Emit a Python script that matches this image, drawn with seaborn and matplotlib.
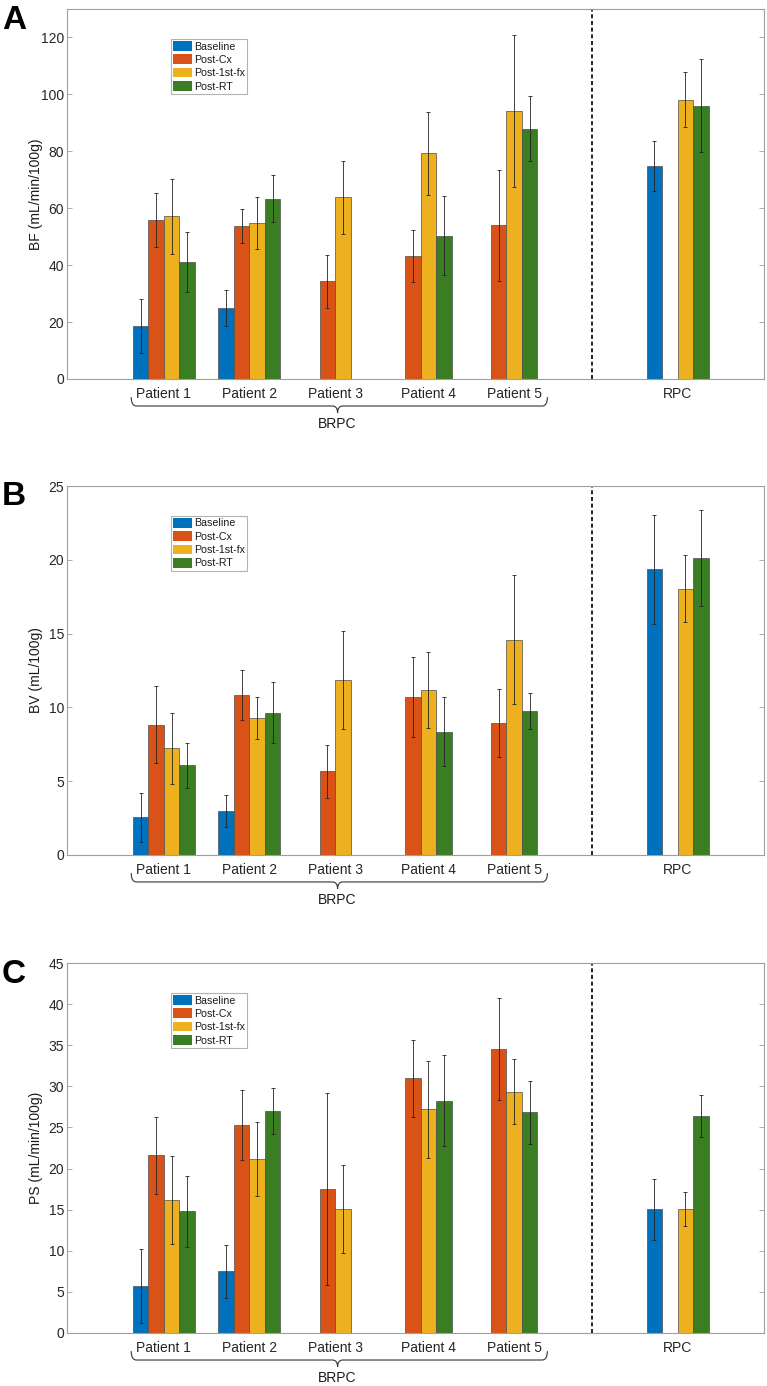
import numpy as np
import pandas as pd
import matplotlib
matplotlib.use("Agg")
import matplotlib.pyplot as plt
from matplotlib.path import Path
from matplotlib.patches import PathPatch
import seaborn as sns

# ---------------- data ----------------
groups = ["Patient 1", "Patient 2", "Patient 3", "Patient 4", "Patient 5", "RPC"]
group_pos = [1, 2, 3, 4, 5, 7]
conditions = ["Baseline", "Post-Cx", "Post-1st-fx", "Post-RT"]
colors = ["#0072BD", "#D95319", "#EDB120", "#3B7D23"]
nan = np.nan

# BF (mL/min/100g): rows = groups, cols = conditions
bf_mean = [[18.7, 56.0, 57.1, 41.1],
           [24.8, 53.8, 54.7, 63.3],
           [nan, 34.3, 63.9, nan],
           [nan, 43.2, 79.3, 50.4],
           [nan, 54.0, 94.2, 88.0],
           [74.8, nan, 98.1, 96.0]]
bf_err = [[9.4, 9.5, 13.2, 10.7],
          [6.3, 6.1, 9.1, 8.3],
          [nan, 9.3, 12.8, nan],
          [nan, 9.0, 14.5, 14.0],
          [nan, 19.6, 26.8, 11.5],
          [8.8, nan, 9.6, 16.4]]

# BV (mL/100g)
bv_mean = [[2.55, 8.82, 7.24, 6.07],
           [3.00, 10.83, 9.27, 9.63],
           [nan, 5.66, 11.85, nan],
           [nan, 10.72, 11.17, 8.35],
           [nan, 8.94, 14.58, 9.75],
           [19.36, nan, 18.05, 20.13]]
bv_err = [[1.68, 2.60, 2.40, 1.50],
          [1.08, 1.69, 1.42, 2.07],
          [nan, 1.77, 3.32, nan],
          [nan, 2.72, 2.55, 2.35],
          [nan, 2.30, 4.37, 1.22],
          [3.69, nan, 2.29, 3.27]]

# PS (mL/min/100g)
ps_mean = [[5.73, 21.59, 16.18, 14.80],
           [7.48, 25.33, 21.22, 26.95],
           [nan, 17.56, 15.08, nan],
           [nan, 30.98, 27.20, 28.25],
           [nan, 34.51, 29.35, 26.83],
           [15.04, nan, 15.08, 26.34]]
ps_err = [[4.50, 4.70, 5.37, 4.30],
          [3.20, 4.27, 4.50, 2.80],
          [nan, 11.67, 5.37, nan],
          [nan, 4.67, 5.90, 5.55],
          [nan, 6.22, 3.96, 3.82],
          [3.74, nan, 2.07, 2.56]]

panels = [
    ("A", "BF (mL/min/100g)", bf_mean, bf_err, 130, list(range(0, 121, 20))),
    ("B", "BV (mL/100g)", bv_mean, bv_err, 25, list(range(0, 26, 5))),
    ("C", "PS (mL/min/100g)", ps_mean, ps_err, 45, list(range(0, 46, 5))),
]

# label positions (tick label placement along x)
label_pos = [1.0, 2.0, 3.0, 4.09, 5.1, 7.0]

# ---------------- style ----------------
sns.set_style("white")
plt.rcParams["font.family"] = ["Liberation Sans", "DejaVu Sans"]
plt.rcParams["text.color"] = "#1a1a1a"

W, H = 767, 1386
fig = plt.figure(figsize=(W / 100, H / 100), dpi=100)

ax_px = [(9, 379), (486, 855), (963, 1333)]  # (top, bottom) pixel rows
left_px, right_px = 67, 764
letter_tops = [5, 481, 959]

frame_col = "#a0a0a0"

for (letter, ylabel, means, errs, ymax, yticks), (top, bot), ltop in zip(panels, ax_px, letter_tops):
    ax = fig.add_axes([left_px / W, 1 - bot / H, (right_px - left_px) / W, (bot - top) / H])

    rows = []
    for gi, g in enumerate(groups):
        for ci, c in enumerate(conditions):
            rows.append({"pos": group_pos[gi], "cond": c,
                         "value": means[gi][ci], "err": errs[gi][ci]})
    df = pd.DataFrame(rows)
    df_plot = df.dropna(subset=["value"])

    sns.barplot(data=df_plot, x="pos", y="value", hue="cond", hue_order=conditions,
                palette=colors, native_scale=True, width=0.724, errorbar=None,
                edgecolor="#4d4d4d", linewidth=0.5, saturation=1, ax=ax)

    # error bars placed at each drawn bar
    xs, ys, es = [], [], []
    for p in ax.patches:
        h = p.get_height()
        cx = p.get_x() + p.get_width() / 2
        m = df_plot[(df_plot["pos"] == round(cx)) & np.isclose(df_plot["value"], h)]
        if len(m):
            xs.append(cx)
            ys.append(h)
            es.append(m["err"].iloc[0])
    ax.errorbar(xs, ys, yerr=es, fmt="none", ecolor="#222222", elinewidth=0.6,
                capsize=1.6, capthick=0.6, zorder=5)

    ax.set_xlim(-0.13, 8.01)
    ax.set_ylim(0, ymax)
    ax.set_yticks(yticks)
    ax.set_xticks(label_pos)
    ax.set_xticklabels(groups)
    ax.set_xlabel("")
    ax.set_ylabel(ylabel, fontsize=10, color="#1a1a1a")
    ax.yaxis.set_label_coords(-0.0344, 0.5)

    ax.axvline(6, color="#111111", lw=1.3, ls=(0, (2.2, 1.5)), zorder=1)

    for s in ax.spines.values():
        s.set_color(frame_col)
        s.set_linewidth(0.8)
        s.set_visible(True)
    ax.tick_params(axis="y", direction="in", left=True, right=True, length=3.8,
                   width=0.6, color=frame_col, labelsize=10, pad=2, labelcolor="#262626")
    ax.tick_params(axis="x", length=0, labelsize=10, pad=6, labelcolor="#262626")

    # legend
    sns.move_legend(ax, loc="upper left", bbox_to_anchor=(0.1488, 0.919), title=None,
                    frameon=True, fancybox=False, fontsize=7.7, handlelength=1.78,
                    handleheight=1.0, handletextpad=0.2, borderaxespad=0,
                    borderpad=0.2, labelspacing=0.27)
    leg = ax.get_legend()
    leg.get_frame().set_edgecolor(frame_col)
    leg.get_frame().set_linewidth(0.8)
    for hnd in leg.legend_handles:
        hnd.set_edgecolor("none")

    # brace under BRPC groups
    tr = ax.get_xaxis_transform()
    l, r, mid = 0.62, 5.48, 3.03
    ytop, yh, ybot = -0.049, -0.073, -0.092
    dx = 0.06
    verts = [(l, ytop), (l, yh), (l + dx, yh), (mid - dx, yh), (mid, yh), (mid, ybot),
             (mid, yh), (mid + dx, yh), (r - dx, yh), (r, yh), (r, ytop)]
    codes = [Path.MOVETO, Path.CURVE3, Path.CURVE3, Path.LINETO, Path.CURVE3, Path.CURVE3,
             Path.CURVE3, Path.CURVE3, Path.LINETO, Path.CURVE3, Path.CURVE3]
    ax.add_patch(PathPatch(Path(verts, codes), transform=tr, fill=False,
                           edgecolor="#333333", lw=0.8, clip_on=False))
    ax.text(mid, -0.1216, "BRPC", transform=tr, ha="center", va="center",
            fontsize=10, color="#1a1a1a")

    fig.text(2 / W, 1 - ltop / H, letter, fontsize=24, fontweight="bold",
             ha="left", va="top", color="black")

fig.savefig("out.png", dpi=100)
